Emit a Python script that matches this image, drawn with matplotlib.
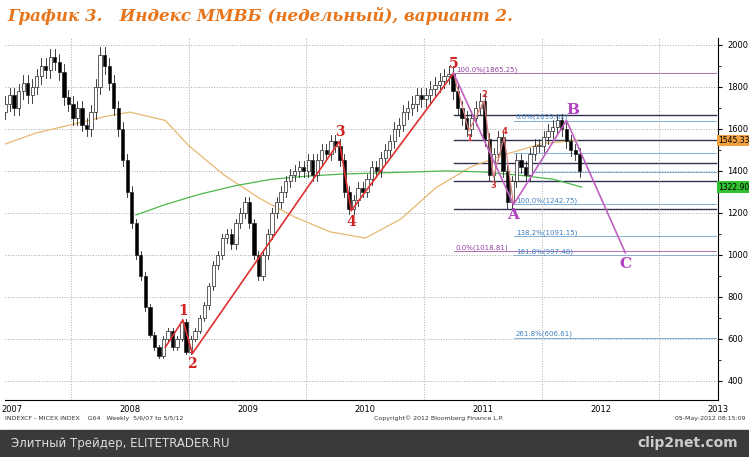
import matplotlib
matplotlib.use("Agg")
import matplotlib.pyplot as plt
import numpy as np

start_year = 2007.40
closes = [1680,1720,1760,1700,1780,1820,1760,1800,1850,1900,1880,1940,1920,1870,1750,
          1720,1650,1700,1620,1600,1680,1800,1950,1900,1820,1700,1600,1450,1300,1150,1000,900,750,620,560,520,600,640,560,600,680,
          540,600,640,700,760,850,950,1000,1080,1100,1050,1150,1200,1250,1150,1000,900,1000,1100,1200,1250,1300,1350,1380,1400,1420,
          1400,1450,1380,1450,1500,1480,1540,1520,1450,1300,1220,1260,1320,1300,1360,1420,1400,1460,1500,1540,1600,1620,1680,1700,1720,1760,
          1740,1760,1790,1810,1830,1850,1860,1780,1700,1650,1600,1650,1700,1735,1550,1380,1480,1560,1400,1250,1350,1450,1420,1380,1480,1520,
          1520,1560,1590,1610,1640,1600,1540,1500,1480,1400]
ma_long_x = [2007.4,2007.7,2008.0,2008.3,2008.5,2008.8,2009.0,2009.3,2009.6,2009.9,2010.2,2010.5,2010.8,2011.1,2011.4,2011.7,2012.0,2012.3]
ma_long_y = [1520,1580,1620,1660,1680,1640,1520,1380,1270,1180,1110,1080,1170,1320,1420,1480,1530,1545]
ma_short_x = [2008.55,2008.8,2009.1,2009.4,2009.7,2010.0,2010.3,2010.6,2010.9,2011.2,2011.5,2011.8,2012.1,2012.34]
ma_short_y = [1190,1240,1290,1330,1360,1375,1385,1390,1395,1400,1395,1380,1360,1323]
wave_x = [2008.80,2008.95,2009.03,2010.28,2010.38,2011.25]
wave_y = [560,690,530,1540,1210,1865]
wave_lbl = ["","1","2","3","4","5"]
sub_x = [2011.25,2011.38,2011.51,2011.59,2011.68,2011.76]
sub_y = [1865,1590,1735,1370,1560,1240]
sub_lbl = ["","1","2","3","4",""]
abc_x = [2011.25,2011.76,2012.21,2012.71]
abc_y = [1865,1240,1640,1010]
abc_lbl = ["","A","B","C"]
dark_levels = [1665,1545,1440,1350,1220]
fib_purple = [1865.25,1018.81]
fib_purple_lbl = ["100.0%(1865.25)","0.0%(1018.81)"]
fib_blue = [1639.62,1485,1395,1242.75,1091.15,997.48,606.61]
fib_blue_lbl = ["0.0%(1639.62)","","","100.0%(1242.75)","138.2%(1091.15)","161.8%(997.48)","261.8%(606.61)"]
yticks = [400,600,800,1000,1200,1400,1600,1800,2000]
years = [2007,2008,2009,2010,2011,2012,2013]

fig = plt.figure(figsize=(7.49,4.57), dpi=100)
ax = fig.add_axes([0.007,0.125,0.952,0.792])
x = start_year + np.arange(len(closes))/26
opens = [closes[0]] + closes[:-1]
for xi,o,c in zip(x,opens,closes):
    hi, lo = max(o,c)*1.02, min(o,c)*0.98
    col = 'white' if c>=o else 'black'
    ax.plot([xi,xi],[lo,hi],color='#222',lw=0.6,zorder=3)
    ax.bar(xi,max(abs(c-o),4),bottom=min(o,c),width=0.028,color=col,edgecolor='#222',lw=0.5,zorder=4)
ax.plot(ma_long_x,ma_long_y,color='#e8b870',lw=0.9,zorder=2)
ax.plot(ma_short_x,ma_short_y,color='#4cb84c',lw=0.9,zorder=2)
x0=2011.25
for lv in dark_levels:
    ax.plot([x0,2013.48],[lv,lv],color='#303050',lw=1.0,zorder=1)
for lv,l in zip(fib_purple,fib_purple_lbl):
    ax.plot([x0,2013.48],[lv,lv],color='#b070b0',lw=0.7,zorder=1)
    ax.text(x0+0.02,lv+8,l,fontsize=5,color='#9040a0')
for lv,l in zip(fib_blue,fib_blue_lbl):
    ax.plot([2011.76,2013.48],[lv,lv],color='#80b0d8',lw=0.7,zorder=1)
    if l: ax.text(2011.78,lv+8,l,fontsize=5,color='#4080c0')
ax.plot(wave_x,wave_y,color='#e03030',lw=1.2,zorder=5)
for a,b,l in zip(wave_x,wave_y,wave_lbl):
    if l: ax.text(a,b+(25 if l in "135" else -70),l,color='#d02020',fontsize=10,fontweight='bold',ha='center',family='serif')
ax.plot(sub_x,sub_y,color='#e08080',lw=0.9,zorder=5)
for a,b,l in zip(sub_x,sub_y,sub_lbl):
    if l: ax.text(a,b+(15 if l in "24" else -50),l,color='#d03030',fontsize=6,fontweight='bold',ha='center')
ax.plot(abc_x,abc_y,color='#c060c0',lw=1.2,zorder=5)
for a,b,l in zip(abc_x,abc_y,abc_lbl):
    if l: ax.text(a+(0.05 if l=="B" else 0),b+(30 if l=="B" else -70),l,color='#b040c0',fontsize=11,fontweight='bold',ha='center',family='serif')
ax.text(2013.5,1545,"1545.33",fontsize=5.5,va='center',bbox=dict(fc='#f0a040',ec='none',pad=1),clip_on=False)
ax.text(2013.5,1323,"1322.90",fontsize=5.5,va='center',bbox=dict(fc='#30c030',ec='none',pad=1),clip_on=False)
ax.set_xlim(2007.44,2013.48); ax.set_ylim(310,2033)
ax.yaxis.tick_right(); ax.set_yticks(yticks)
ax.tick_params(axis='y',labelsize=6,length=3)
ax.set_xticks(years[1:]); ax.set_xticklabels([])
ax.tick_params(axis='x',length=0)
ax.set_xticks([y+0.5 for y in years],minor=True)
ax.set_xticklabels([str(y) for y in years],minor=True,fontsize=6)
ax.tick_params(axis='x',which='minor',length=0)
ax.grid(True,which='major',color='#aaa',ls=':',lw=0.7)
ax.set_yticks([500,700,900,1100,1300,1500,1700,1900],minor=True)
for s in ['top','left']: ax.spines[s].set_visible(False)
fig.text(0.01,0.965,"График 3.   Индекс ММВБ (недельный), вариант 2.",fontsize=12,color='#e8751a',fontweight='bold',style='italic',va='center',family='serif')
fig.text(0.007,0.08,"INDEXCF - MICEX INDEX    G64   Weekly  5/6/07 to 5/5/12",fontsize=4.5,color='#333')
fig.text(0.5,0.08,"Copyright© 2012 Bloomberg Finance L.P.",fontsize=4.5,color='#333')
fig.text(0.995,0.08,"05-May-2012 08:15:09",fontsize=4.5,color='#333',ha='right')
fig.patches.append(plt.Rectangle((0,0),1,0.06,transform=fig.transFigure,color='#3a3a3a'))
fig.text(0.015,0.03,"Элитный Трейдер, ELITETRADER.RU",fontsize=8.5,color='#ddd',va='center')
fig.text(0.985,0.03,"clip2net.com",fontsize=10,color='#ccc',va='center',ha='right',fontweight='bold')
fig.savefig("out.png",dpi=100)
